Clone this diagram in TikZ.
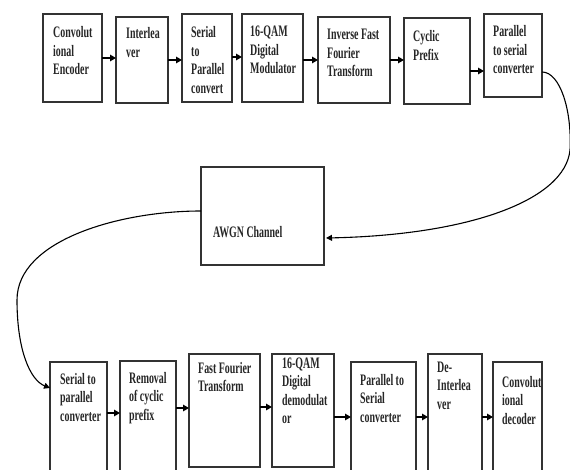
\documentclass[tikz,border=0pt]{standalone}
\usepackage{fontspec}
\newfontfamily\lab[FakeStretch=0.62]{Liberation Serif}
\usetikzlibrary{arrows.meta}
\newcommand{\tl}[1]{\begin{tabular}[t]{@{}l@{}}#1\end{tabular}}
\newcommand{\bx}[5]{\node[blk, minimum width={#4-#2}, minimum height={#5-#3}] (#1) at ({(#2+#4)/2},{(#3+#5)/2}) {};}
\newcommand{\tx}[4]{\node[txt] (#1t) at ([shift={(#2,#3)}]#1.north west) {\tl{#4}};}
\begin{document}
\begin{tikzpicture}[x=1pt,y=-1pt,
  blk/.style={draw=black!80, line width=1.3pt, inner sep=0pt, outer sep=0pt, fill=white},
  txt/.style={anchor=base west, inner sep=0pt, font=\lab\bfseries\fontsize{16}{18.5}\selectfont, text=black!85},
  arr/.style={line width=1.4pt, -{Triangle[length=6pt,width=6.5pt]}},
  crv/.style={line width=1.1pt, -{Triangle[length=6pt,width=6pt]}}]
\useasboundingbox[fill=white] (0,0) rectangle (570,470);
% top row
\bx{b1}{43}{14}{102}{102}
\bx{b2}{116}{17}{168}{103}
\bx{b3}{182}{14}{232}{102}
\bx{b4}{242}{14}{303}{102}
\bx{b5}{318}{17}{390}{103}
\bx{b6}{404}{18}{470}{104}
\bx{b7}{484}{14}{542}{97}
% channel
\bx{aw}{201}{167}{324}{265}
% bottom row
\bx{B1}{50}{362}{107}{480}
\bx{B2}{120}{361}{176}{480}
\bx{B3}{189}{354}{260}{467}
\bx{B4}{272}{354}{334}{467}
\bx{B5}{351}{362}{416}{480}
\bx{B6}{428}{354}{482}{480}
\bx{B7}{493}{362}{542}{480}
% texts
\tx{b1}{10}{24}{Convolut\\ional\\Encoder}
\tx{b2}{10}{22}{Interlea\\ver}
\tx{b3}{9}{24}{Serial\\to\\Parallel\\convert}
\tx{b4}{8}{23}{16-QAM\\Digital\\Modulator}
\tx{b5}{9}{23}{Inverse Fast\\Fourier\\Transform}
\tx{b6}{9}{24}{Cyclic\\Prefix}
\tx{b7}{9}{23}{Parallel\\to serial\\converter}
\tx{aw}{12}{71}{AWGN Channel}
\tx{B1}{10}{22}{Serial to\\parallel\\converter}
\tx{B2}{9}{22}{Removal\\of cyclic\\prefix}
\tx{B3}{9}{19}{Fast Fourier\\Transform}
\tx{B4}{10}{14}{16-QAM\\Digital\\demodulat\\or}
\tx{B5}{9}{23}{Parallel to\\Serial\\converter}
\tx{B6}{9}{18}{De-\\Interlea\\ver}
\tx{B7}{9}{25}{Convolut\\ional\\decoder}
% top arrows
\draw[arr] (b1.east |- 0,58) -- (b2.west |- 0,58);
\draw[arr] (b2.east |- 0,60) -- (b3.west |- 0,60);
\draw[arr] (b3.east |- 0,57) -- (b4.west |- 0,57);
\draw[arr] (b4.east |- 0,60) -- (b5.west |- 0,60);
\draw[arr] (b5.east |- 0,60) -- (b6.west |- 0,60);
\draw[arr] (b6.east |- 0,71) -- (b7.west |- 0,71);
% bottom arrows
\draw[arr] (B1.east |- 0,413) -- (B2.west |- 0,413);
\draw[arr] (B2.east |- 0,408) -- (B3.west |- 0,408);
\draw[arr] (B3.east |- 0,407) -- (B4.west |- 0,407);
\draw[arr] (B4.east |- 0,417) -- (B5.west |- 0,417);
\draw[arr] (B5.east |- 0,417) -- (B6.west |- 0,417);
\draw[arr] (B6.east |- 0,417) -- (B7.west |- 0,417);
% curves
\draw[crv] (b7.east |- 0,72) .. controls (560,72) and (572,110) .. (570,150)
  .. controls (565,200) and (470,235) .. ([xshift=2pt]aw.east |- 0,238);
\draw[crv] (aw.west |- 0,211) .. controls (120,211) and (17,240) .. (17,300)
  .. controls (17,350) and (30,380) .. (B1.west |- 0,388);
\end{tikzpicture}
\end{document}
